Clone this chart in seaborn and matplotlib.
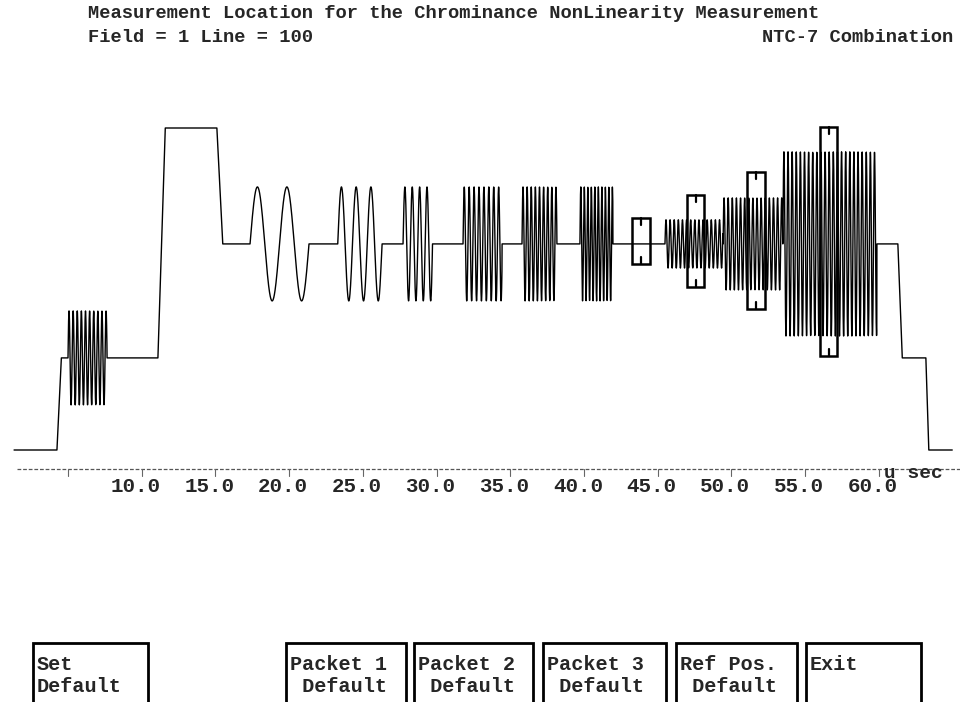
import numpy as np
import pandas as pd
import seaborn as sns
import matplotlib.pyplot as plt
from matplotlib.patches import Rectangle

# luminance steps of the line (time in u sec, level in IRE)
step_t = [1.34, 4.25, 4.55, 11.1, 11.6, 15.1, 15.5, 61.3, 61.6, 63.2, 63.4, 65.0]
step_v = [0.0, 0.0, 28.6, 28.6, 100.0, 100.0, 64.0, 64.0, 28.6, 28.6, 0.0, 0.0]

# sine packets riding on the steps
burst_start = [5.0, 17.35, 23.3, 27.73, 31.8, 35.8, 39.73, 45.5, 49.44, 53.5]
burst_end = [7.65, 21.35, 26.3, 29.73, 34.45, 38.17, 41.97, 49.44, 53.5, 59.88]
burst_amp = [14.6, 17.7, 17.7, 17.7, 17.7, 17.7, 17.7, 7.5, 14.3, 28.6]
burst_mhz = [3.58, 0.5, 1.0, 2.0, 3.0, 3.58, 4.2, 3.58, 3.58, 3.58]

# measurement location boxes (Ref Pos., Packet 1, 2, 3)
box_left = [43.26, 47.0, 51.07, 56.02]
box_right = [44.48, 48.15, 52.29, 57.17]
box_top = [72.0, 79.2, 86.3, 100.3]
box_bottom = [57.8, 50.6, 43.8, 29.2]

tick_t = [5, 10, 15, 20, 25, 30, 35, 40, 45, 50, 55, 60]
tick_labels = ["", "10.0", "15.0", "20.0", "25.0", "30.0", "35.0", "40.0",
               "45.0", "50.0", "55.0", "60.0"]

# soft keys: first line, second line, left px, right px
key_line1 = ["Set", "Packet 1", "Packet 2", "Packet 3", "Ref Pos.", "Exit"]
key_line2 = ["Default", " Default", " Default", " Default", " Default", ""]
key_left = [33, 286, 414, 543, 676, 806]
key_right = [148, 406, 533, 666, 797, 921]

# build the trace
t = np.arange(step_t[0], step_t[-1], 0.01)
v = np.interp(t, step_t, step_v)
for s, e, a, f in zip(burst_start, burst_end, burst_amp, burst_mhz):
    m = (t >= s) & (t <= e)
    v[m] += a * np.sin(2 * np.pi * f * (t[m] - s))
df = pd.DataFrame({"t": t, "v": v})

sns.set_style("white")
plt.rcParams["font.family"] = ["Liberation Mono", "DejaVu Sans Mono"]

W, H = 960, 702
fig = plt.figure(figsize=(9.6, 7.02), dpi=100)
ax = fig.add_axes([0, 0, 1, 1])
px_per_us = 14.74
px_per_ire = 3.22
ax.set_xlim(5 - 68 / px_per_us, 5 + (W - 68) / px_per_us)
ax.set_ylim((450 - H) / px_per_ire, 450 / px_per_ire)
ax.axis("off")

sns.lineplot(data=df, x="t", y="v", ax=ax, color="black", lw=1.0,
             estimator=None, sort=False)

# boxes
for l, r, tp, bt in zip(box_left, box_right, box_top, box_bottom):
    ax.add_patch(Rectangle((l, bt), r - l, tp - bt, fill=False,
                           ec="black", lw=1.8, zorder=3))
    c = (l + r) / 2
    ax.plot([c, c], [tp, tp - 2.2], color="black", lw=1.6)
    ax.plot([c, c], [bt, bt + 2.2], color="black", lw=1.6)

# time axis
axis_v = (450 - 469) / px_per_ire
ax.plot([1.54, 66], [axis_v, axis_v], color="#555555", lw=0.9,
        ls=(0, (3, 1.5)))
for tt, lab in zip(tick_t, tick_labels):
    ax.plot([tt, tt], [axis_v, axis_v - 7 / px_per_ire], color="#666666", lw=0.8)
    if lab:
        ax.text(tt - 6 / px_per_us, (450 - 486) / px_per_ire, lab,
                ha="center", va="center", fontsize=15, fontweight="bold")
fig.text(884 / W, 1 - 474 / H, "u sec", ha="left", va="center",
         fontsize=14, fontweight="bold")

# header
fig.text(88 / W, 1 - 13 / H,
         "Measurement Location for the Chrominance NonLinearity Measurement",
         ha="left", va="center", fontsize=13.5, fontweight="bold")
fig.text(88 / W, 1 - 38 / H, "Field = 1 Line = 100", ha="left",
         va="center", fontsize=13.5, fontweight="bold")
fig.text(953 / W, 1 - 38 / H, "NTC-7 Combination", ha="right",
         va="center", fontsize=13.5, fontweight="bold")

# soft keys
for l1, l2, x0, x1 in zip(key_line1, key_line2, key_left, key_right):
    fig.patches.append(Rectangle((x0 / W, 1 - 712 / H), (x1 - x0) / W,
                                 (712 - 643) / H, transform=fig.transFigure,
                                 fill=False, ec="black", lw=2))
    fig.text((x0 + 4) / W, 1 - 664 / H, l1, ha="left", va="center",
             fontsize=14.5, fontweight="bold")
    fig.text((x0 + 4) / W, 1 - 686 / H, l2, ha="left", va="center",
             fontsize=14.5, fontweight="bold")

fig.savefig("out.png", dpi=100)
